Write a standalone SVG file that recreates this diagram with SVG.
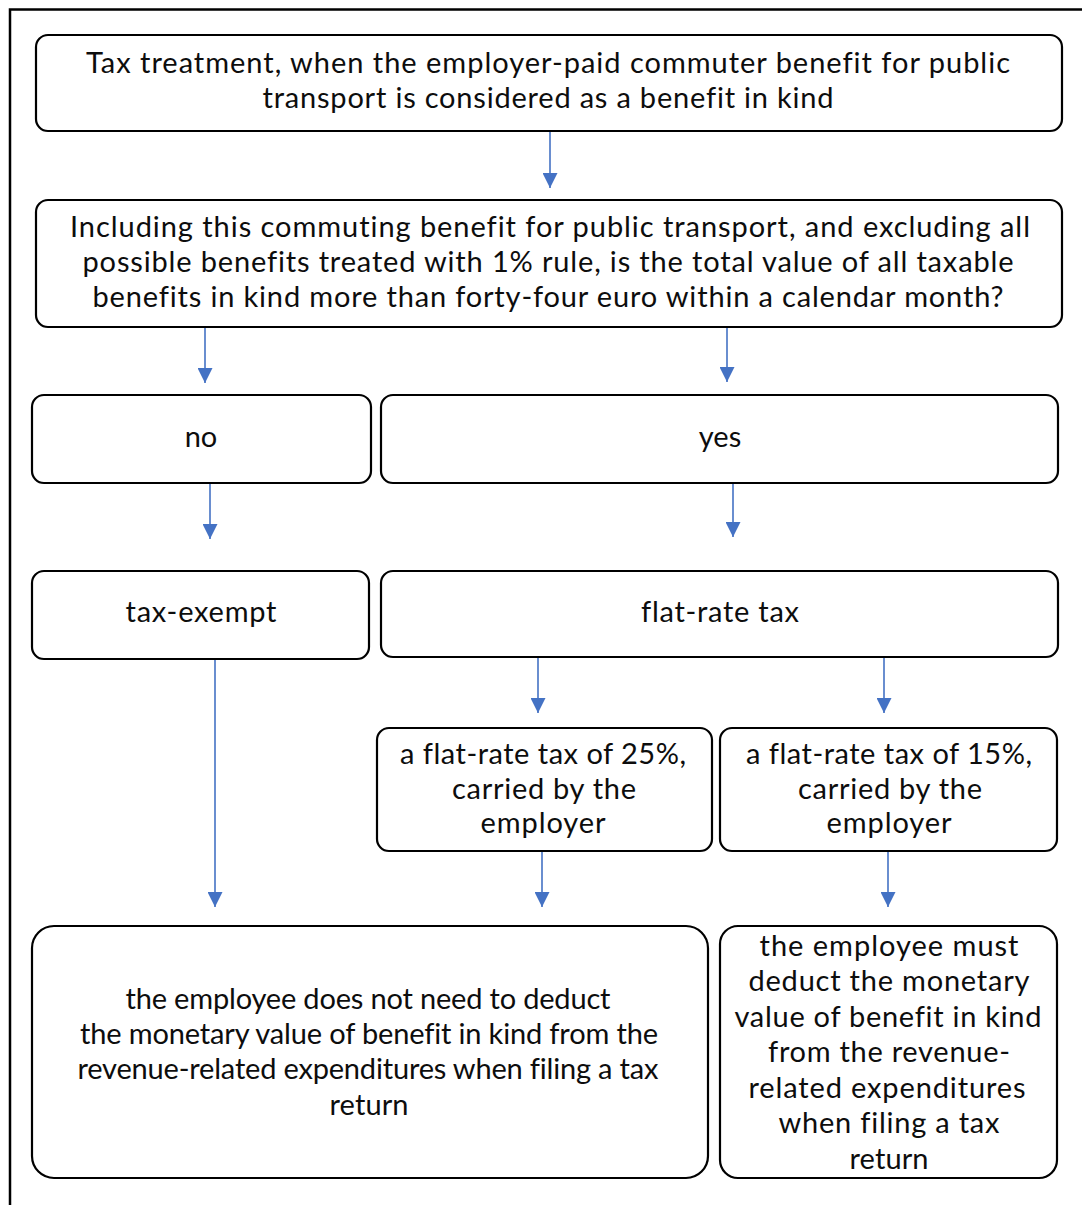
<svg xmlns="http://www.w3.org/2000/svg" width="1082" height="1205" viewBox="0 0 1082 1205">
  <style>
    .box { fill: #ffffff; stroke: #000000; stroke-width: 2.2; }
    .lbl { font-family: Lato, "Open Sans", "Liberation Sans", sans-serif; font-size: 29px; fill: #0d0d0d; text-anchor: middle; font-variant-ligatures: none; }
    .wire { stroke: #4472C4; stroke-width: 1.6; fill: none; marker-end: url(#tip); }
  </style>
  <defs>
    <marker id="tip" viewBox="0 0 16 15" refX="15" refY="7.5" markerWidth="16" markerHeight="15" markerUnits="userSpaceOnUse" orient="auto">
      <path d="M0,0 L15,7.5 L0,15 Z" fill="#4472C4"/>
    </marker>
  </defs>

  <rect width="1082" height="1205" fill="#ffffff"/>
  <!-- page frame -->
  <path d="M10,1205 L10,9.5 L1082,9.5" fill="none" stroke="#000000" stroke-width="2.5"/>

  <g id="connectors">
    <line class="wire" x1="550" y1="132" x2="550" y2="188"/>
    <line class="wire" x1="205" y1="328" x2="205" y2="383"/>
    <line class="wire" x1="727" y1="328" x2="727" y2="382"/>
    <line class="wire" x1="210" y1="484" x2="210" y2="539"/>
    <line class="wire" x1="733" y1="484" x2="733" y2="537"/>
    <line class="wire" x1="215" y1="660" x2="215" y2="907"/>
    <line class="wire" x1="538" y1="658" x2="538" y2="713"/>
    <line class="wire" x1="884" y1="658" x2="884" y2="713"/>
    <line class="wire" x1="542" y1="852" x2="542" y2="907"/>
    <line class="wire" x1="888" y1="852" x2="888" y2="907"/>
  </g>

  <g id="n-treatment">
    <rect class="box" x="36" y="35" width="1026" height="96" rx="12"/>
    <text class="lbl" x="548" y="73" textLength="924" lengthAdjust="spacing">Tax treatment, when the employer-paid commuter benefit for public</text>
    <text class="lbl" x="548" y="108" textLength="571" lengthAdjust="spacing">transport is considered as a benefit in kind</text>
  </g>

  <g id="n-question">
    <rect class="box" x="36" y="200" width="1026" height="127" rx="12"/>
    <text class="lbl" x="550" y="237" textLength="960" lengthAdjust="spacing">Including this commuting benefit for public transport, and excluding all</text>
    <text class="lbl" x="548" y="272" textLength="931" lengthAdjust="spacing">possible benefits treated with 1% rule, is the total value of all taxable</text>
    <text class="lbl" x="548" y="307" textLength="911" lengthAdjust="spacing">benefits in kind more than forty-four euro within a calendar month?</text>
  </g>

  <g id="n-no">
    <rect class="box" x="32" y="395" width="339" height="88" rx="12"/>
    <text class="lbl" x="201" y="447">no</text>
  </g>

  <g id="n-yes">
    <rect class="box" x="381" y="395" width="677" height="88" rx="12"/>
    <text class="lbl" x="720" y="447">yes</text>
  </g>

  <g id="n-exempt">
    <rect class="box" x="32" y="571" width="337" height="88" rx="12"/>
    <text class="lbl" x="201" y="622" textLength="151" lengthAdjust="spacing">tax-exempt</text>
  </g>

  <g id="n-flat">
    <rect class="box" x="381" y="571" width="677" height="86" rx="12"/>
    <text class="lbl" x="720" y="622" textLength="158" lengthAdjust="spacing">flat-rate tax</text>
  </g>

  <g id="n-flat25">
    <rect class="box" x="377" y="728" width="335" height="123" rx="12"/>
    <text class="lbl" x="543" y="764" textLength="286" lengthAdjust="spacing">a flat-rate tax of 25%,</text>
    <text class="lbl" x="544" y="799" textLength="184" lengthAdjust="spacing">carried by the</text>
    <text class="lbl" x="543" y="833" textLength="125" lengthAdjust="spacing">employer</text>
  </g>

  <g id="n-flat15">
    <rect class="box" x="720" y="728" width="337" height="123" rx="12"/>
    <text class="lbl" x="889" y="764" textLength="286" lengthAdjust="spacing">a flat-rate tax of 15%,</text>
    <text class="lbl" x="890" y="799" textLength="184" lengthAdjust="spacing">carried by the</text>
    <text class="lbl" x="889" y="833" textLength="125" lengthAdjust="spacing">employer</text>
  </g>

  <g id="n-no-deduct">
    <rect class="box" x="32" y="926" width="676" height="252" rx="22"/>
    <text class="lbl" x="368" y="1009" textLength="485" lengthAdjust="spacing">the employee does not need to deduct</text>
    <text class="lbl" x="369" y="1044" textLength="578" lengthAdjust="spacing">the monetary value of benefit in kind from the</text>
    <text class="lbl" x="368" y="1079" textLength="581" lengthAdjust="spacing">revenue-related expenditures when filing a tax</text>
    <text class="lbl" x="369" y="1115" textLength="79" lengthAdjust="spacing">return</text>
  </g>

  <g id="n-must-deduct">
    <rect class="box" x="720" y="926" width="337" height="252" rx="18"/>
    <text class="lbl" x="889" y="956" textLength="259" lengthAdjust="spacing">the employee must</text>
    <text class="lbl" x="889" y="991" textLength="281" lengthAdjust="spacing">deduct the monetary</text>
    <text class="lbl" x="888" y="1027" textLength="307" lengthAdjust="spacing">value of benefit in kind</text>
    <text class="lbl" x="889" y="1062" textLength="242" lengthAdjust="spacing">from the revenue-</text>
    <text class="lbl" x="887" y="1098" textLength="277" lengthAdjust="spacing">related expenditures</text>
    <text class="lbl" x="889" y="1133" textLength="221" lengthAdjust="spacing">when filing a tax</text>
    <text class="lbl" x="889" y="1169" textLength="79" lengthAdjust="spacing">return</text>
  </g>
</svg>
